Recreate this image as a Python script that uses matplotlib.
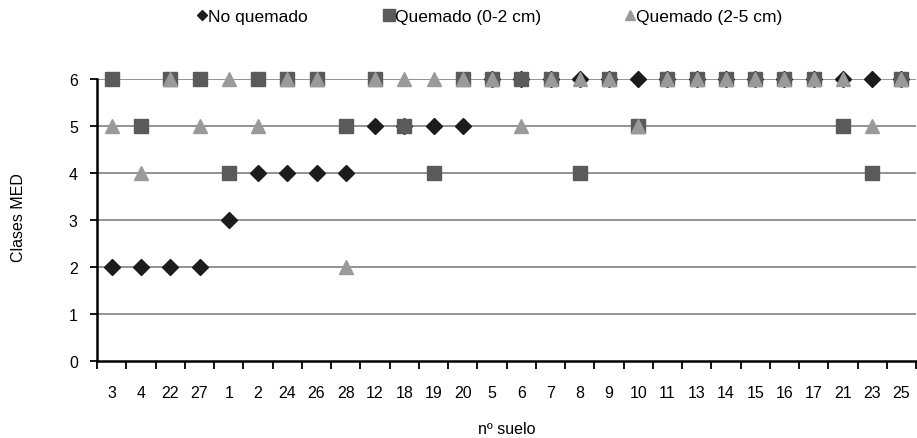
import matplotlib.pyplot as plt
from matplotlib.lines import Line2D
import numpy as np

plt.rcParams['font.family'] = ['Liberation Sans', 'DejaVu Sans']

# soil numbers in plotted order
suelos = ['3', '4', '22', '27', '1', '2', '24', '26', '28', '12', '18', '19', '20',
          '5', '6', '7', '8', '9', '10', '11', '13', '14', '15', '16', '17', '21', '23', '25']

no_quemado = [2, 2, 2, 2, 3, 4, 4, 4, 4, 5, 5, 5, 5,
              6, 6, 6, 6, 6, 6, 6, 6, 6, 6, 6, 6, 6, 6, 6]
quemado_0_2 = [6, 5, 6, 6, 4, 6, 6, 6, 5, 6, 5, 4, 6,
               6, 6, 6, 4, 6, 5, 6, 6, 6, 6, 6, 6, 5, 4, 6]
quemado_2_5 = [5, 4, 6, 5, 6, 5, 6, 6, 2, 6, 6, 6, 6,
               6, 5, 6, 6, 6, 5, 6, 6, 6, 6, 6, 6, 6, 5, 6]

BLACK = '#1c1c1c'
DARK = '#5a5a5a'
LIGHT = '#9a9a9a'
GRID = '#8a8a8a'
FS = 11.5

fig = plt.figure(figsize=(9.17, 4.39), dpi=100)
ax = fig.add_axes([0.106, 0.175, 0.893, 0.643])

x = np.arange(len(suelos))
ax.plot(x, no_quemado, 'D', color=BLACK, ms=7.8, zorder=3, clip_on=False)
ax.plot(x, quemado_0_2, 's', color=DARK, ms=10, zorder=4, clip_on=False)
ax.plot(x, quemado_2_5, '^', color=LIGHT, ms=10, zorder=5, clip_on=False)

ax.set_xlim(-0.5, len(suelos) - 0.5)
ax.set_ylim(0, 6)
ax.set_yticks(range(7))
for v in range(1, 7):
    ax.axhline(v, color=GRID, lw=1.3, zorder=1)

ax.set_xticks(x)
ax.set_xticklabels(suelos)
ax.set_xticks(np.arange(len(suelos) + 1) - 0.5, minor=True)
ax.tick_params(axis='x', which='major', length=0, pad=17, labelsize=FS)
ax.tick_params(axis='x', which='minor', length=6, width=1.3, direction='out')
ax.tick_params(axis='y', length=5, width=1.3, pad=9, labelsize=FS)

for s in ['top', 'right']:
    ax.spines[s].set_visible(False)
for s in ['left', 'bottom']:
    ax.spines[s].set_linewidth(1.8)
    ax.spines[s].set_color('black')

fig.text(19 / 917, 1 - 218 / 439, 'Clases MED', rotation=90, fontsize=FS,
         ha='center', va='center')
ax.set_xlabel('nº suelo', fontsize=FS, labelpad=15)

# legend entries, one per column, placed like the original
entries = [('D', BLACK, 5.6, 'No quemado', 0.214),
           ('s', DARK, 8, 'Quemado (0-2 cm)', 0.418),
           ('^', LIGHT, 7.5, 'Quemado (2-5 cm)', 0.680)]
for mk, col, ms, lab, xpos in entries:
    h = Line2D([], [], ls='none', marker=mk, color=col, ms=ms)
    fig.legend([h], [lab], loc='center left', bbox_to_anchor=(xpos, 0.96),
               frameon=False, fontsize=12.5, handletextpad=0.0, handlelength=0.7,
               borderpad=0, borderaxespad=0)

fig.savefig('out.png', dpi=100)
